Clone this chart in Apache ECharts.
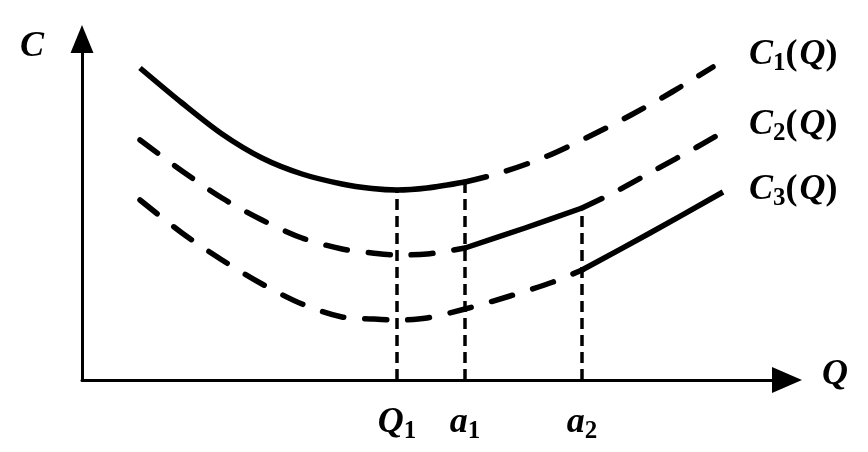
<!DOCTYPE html>
<html><head><meta charset="utf-8">
<script src="https://cdn.jsdelivr.net/npm/echarts@6/dist/echarts.min.js"></script>
<style>html,body{margin:0;padding:0;background:#fff}#c{width:868px;height:452px}</style>
</head><body><div id="c"></div>
<script>
// Curve values (Q, C)
const c1Solid = [[58,312],[100,277],[140,246],[180,222],[220,206],[260,196],[290,191.5],[315,190],[345,192],[383,198]];
const c1Dashed = [[383,198],[418,207],[463,223],[506,243],[549,265],[590,288],[631,313]];
const c2DashedLeft = [[58,240],[100,209],[140,182],[180,160],[220,142],[260,131],[290,127],[315,125],[345,126],[383,132]];
const c2Solid = [[383,132],[443,152],[500,172]];
const c2DashedRight = [[500,172],[531,187],[573,210],[615,233],[641,248]];
const c3Dashed = [[58,180],[100,147],[140,120],[180,96],[220,76],[260,63],[290,61],[315,60],[345,62],[383,71],[428,84],[471,98],[500,110]];
const c3Solid = [[500,110],[568,147],[641,188]];
// Marked quantities on the Q axis
const markX = [315, 383, 500];
const markTop = [190, 198, 172];
const markNames = ['Q', 'a', 'a'];
const markSubs = ['1', '1', '2'];
// Curve labels
const curveSubs = ['1', '2', '3'];

const FONT = 'Liberation Serif';
const black = '#000';

function curve(data, dashed) {
  return {
    type: 'line', data: data, smooth: 0.3, showSymbol: false, silent: true,
    lineStyle: { color: black, width: 5.5, type: dashed ? [22, 21] : 'solid', cap: dashed ? 'round' : 'butt', join: 'round' },
    z: 3
  };
}
const series = [
  curve(c1Solid, false), curve(c1Dashed, true),
  curve(c2DashedLeft, true), curve(c2Solid, false), curve(c2DashedRight, true),
  curve(c3Dashed, true), curve(c3Solid, false)
];
markX.forEach((x, i) => {
  series.push({
    type: 'line', data: [[x, 0], [x, markTop[i]]], showSymbol: false, silent: true,
    lineStyle: { color: black, width: 3.5, type: [11, 6] }, z: 2
  });
});

const richMain = {
  i: { fontFamily: FONT, fontStyle: 'italic', fontWeight: 'bold', fontSize: 36, lineHeight: 42, color: black },
  u: { fontFamily: FONT, fontWeight: 'bold', fontSize: 36, lineHeight: 42, color: black, padding: [0, 2, 0, 0] },
  s: { fontFamily: FONT, fontWeight: 'bold', fontSize: 25, lineHeight: 24, verticalAlign: 'bottom', color: black }
};

const labelY = [55, 125, 190];
const graphics = [
  { type: 'text', left: 20, top: 29, style: { text: 'C', font: 'italic bold 36px "Liberation Serif"', fill: black } },
  { type: 'text', left: 822, top: 357, style: { text: 'Q', font: 'italic bold 36px "Liberation Serif"', fill: black } }
];
curveSubs.forEach((s, i) => {
  graphics.push({
    type: 'text', x: 749, y: labelY[i],
    style: { text: '{i|C}{s|' + s + '}{u|(}{i|Q}{u|)}', rich: richMain, verticalAlign: 'middle', align: 'left' }
  });
});

const chart = echarts.init(document.getElementById('c'));
chart.setOption({
  animation: false,
  backgroundColor: '#fff',
  grid: { left: 82, right: 81, top: 39, bottom: 72 },
  xAxis: {
    type: 'value', min: 0, max: 705,
    axisLine: { show: true, symbol: ['none', 'triangle'], symbolSize: [26, 30], lineStyle: { color: black, width: 3 } },
    axisTick: { show: false }, splitLine: { show: false },
    axisLabel: {
      show: true, customValues: markX, margin: 22,
      formatter: function (v) { const k = markX.indexOf(v); return k < 0 ? '' : '{i|' + markNames[k] + '}{s|' + markSubs[k] + '}'; },
      rich: richMain
    }
  },
  yAxis: {
    type: 'value', min: 0, max: 341,
    axisLine: { show: true, symbol: ['none', 'triangle'], symbolSize: [23, 28], lineStyle: { color: black, width: 3 } },
    axisTick: { show: false }, splitLine: { show: false }, axisLabel: { show: false }
  },
  graphic: graphics,
  series: series
});
</script></body></html>
